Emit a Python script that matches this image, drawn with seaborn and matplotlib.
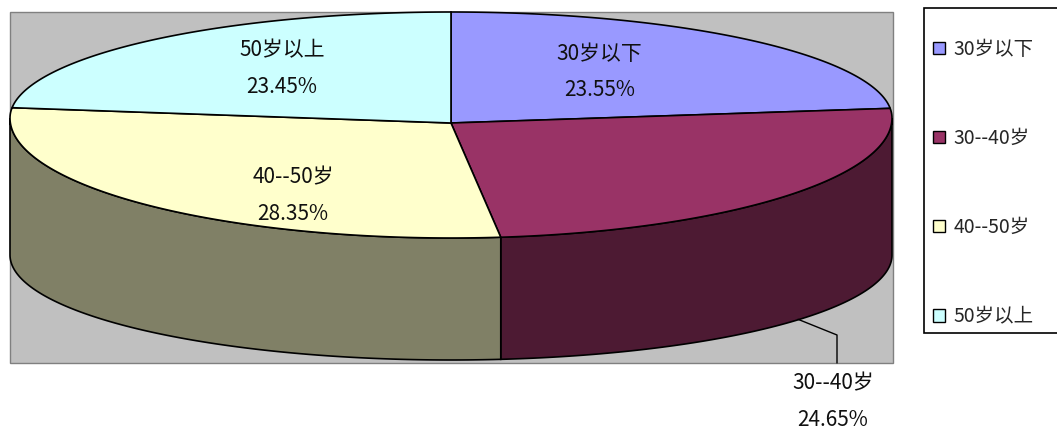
import numpy as np
import matplotlib
matplotlib.use("Agg")
import matplotlib.pyplot as plt
from matplotlib.patches import Polygon, Rectangle, Patch
from matplotlib.colors import to_rgb
import seaborn as sns

labels = ["30岁以下", "30--40岁", "40--50岁", "50岁以上"]
shares = [23.55, 24.65, 28.35, 23.45]
top_colors = ["#9999FF", "#993366", "#FFFFCC", "#CCFFFF"]

sns.set_style("white")
plt.rcParams['font.family'] = ['Noto Sans CJK SC', 'DejaVu Sans']

side_colors = [tuple(np.array(to_rgb(c)) * 0.5) for c in top_colors]

fig = plt.figure(figsize=(10.57, 4.34), dpi=100)
ax = fig.add_axes([0, 0, 1, 1])
ax.set_xlim(0, 1057)
ax.set_ylim(434, 0)
ax.axis("off")

# plot area
ax.add_patch(Rectangle((10, 12), 883, 351, facecolor="#C0C0C0", edgecolor="#808080", lw=1))

# pseudo-3D pie geometry (pixel space)
cx, cy = 451, 118
a = 441
b_up, b_dn = 106, 120
apex = (451, 123)
cy2, b2 = 255, 105


def top_pts(t):
    b = np.where(np.sin(t) > 0, b_up, b_dn)
    return cx + a * np.cos(t), cy - b * np.sin(t)


def bot_pts(t):
    return cx + a * np.cos(t), cy2 - b2 * np.sin(t)


fr = np.array(shares) / np.sum(shares)
ends = 90 - 360 * np.cumsum(fr)
starts = np.concatenate([[90], ends[:-1]])

# side walls (front half only)
for s, e, col in zip(starts, ends, side_colors):
    lo, hi = max(e, -180), min(s, 0)
    if hi <= lo:
        continue
    t = np.radians(np.linspace(lo, hi, 200))
    xt, yt = top_pts(t)
    xb, yb = bot_pts(t[::-1])
    pts = np.column_stack([np.concatenate([xt, xb]), np.concatenate([yt, yb])])
    ax.add_patch(Polygon(pts, closed=True, facecolor=col, edgecolor="black", lw=1.2))

# top wedges
for s, e, col in zip(starts, ends, top_colors):
    t = np.radians(np.linspace(s, e, 300))
    xt, yt = top_pts(t)
    pts = np.column_stack([np.concatenate([[apex[0]], xt]), np.concatenate([[apex[1]], yt])])
    ax.add_patch(Polygon(pts, closed=True, facecolor=col, edgecolor="black", lw=1.2))

# labels
label_r = [(0.5, 0.6), None, (0.51, 0.9), (0.57, 0.64)]
mids = (starts + ends) / 2
for i, (lab, v) in enumerate(zip(labels, shares)):
    m = np.radians(mids[i])
    txt = f"{lab}\n{v:.2f}%"
    if label_r[i] is not None:
        rx, ry = label_r[i]
        b = b_up if np.sin(m) > 0 else b_dn
        x = cx + rx * a * np.cos(m)
        y = cy - ry * b * np.sin(m)
        ax.text(x, y + 1, txt, ha="center", va="center", fontsize=15, linespacing=1.85, color="#101010")
    else:
        x0, y0 = bot_pts(m)
        ax.plot([x0 + 5, 837, 837], [y0 - 2, 335, 363], color="black", lw=1)
        ax.text(833, 402, txt, ha="center", va="center", fontsize=15, linespacing=1.85, color="#101010")

# legend: frame drawn separately, entries via matplotlib legend
ax.add_patch(Rectangle((924, 8), 140, 325, facecolor="white", edgecolor="black", lw=1.2, zorder=3))
handles = [Patch(facecolor=c, edgecolor="black", lw=1) for c in top_colors]
leg = ax.legend(handles, labels, loc="center left", bbox_to_anchor=(933, 183),
                bbox_transform=ax.transData, borderaxespad=0, borderpad=0, frameon=False,
                fontsize=14, labelspacing=3.5, handlelength=0.62,
                handleheight=0.62, handletextpad=0.45)
leg.set_zorder(4)

fig.savefig("out.png", dpi=100)
